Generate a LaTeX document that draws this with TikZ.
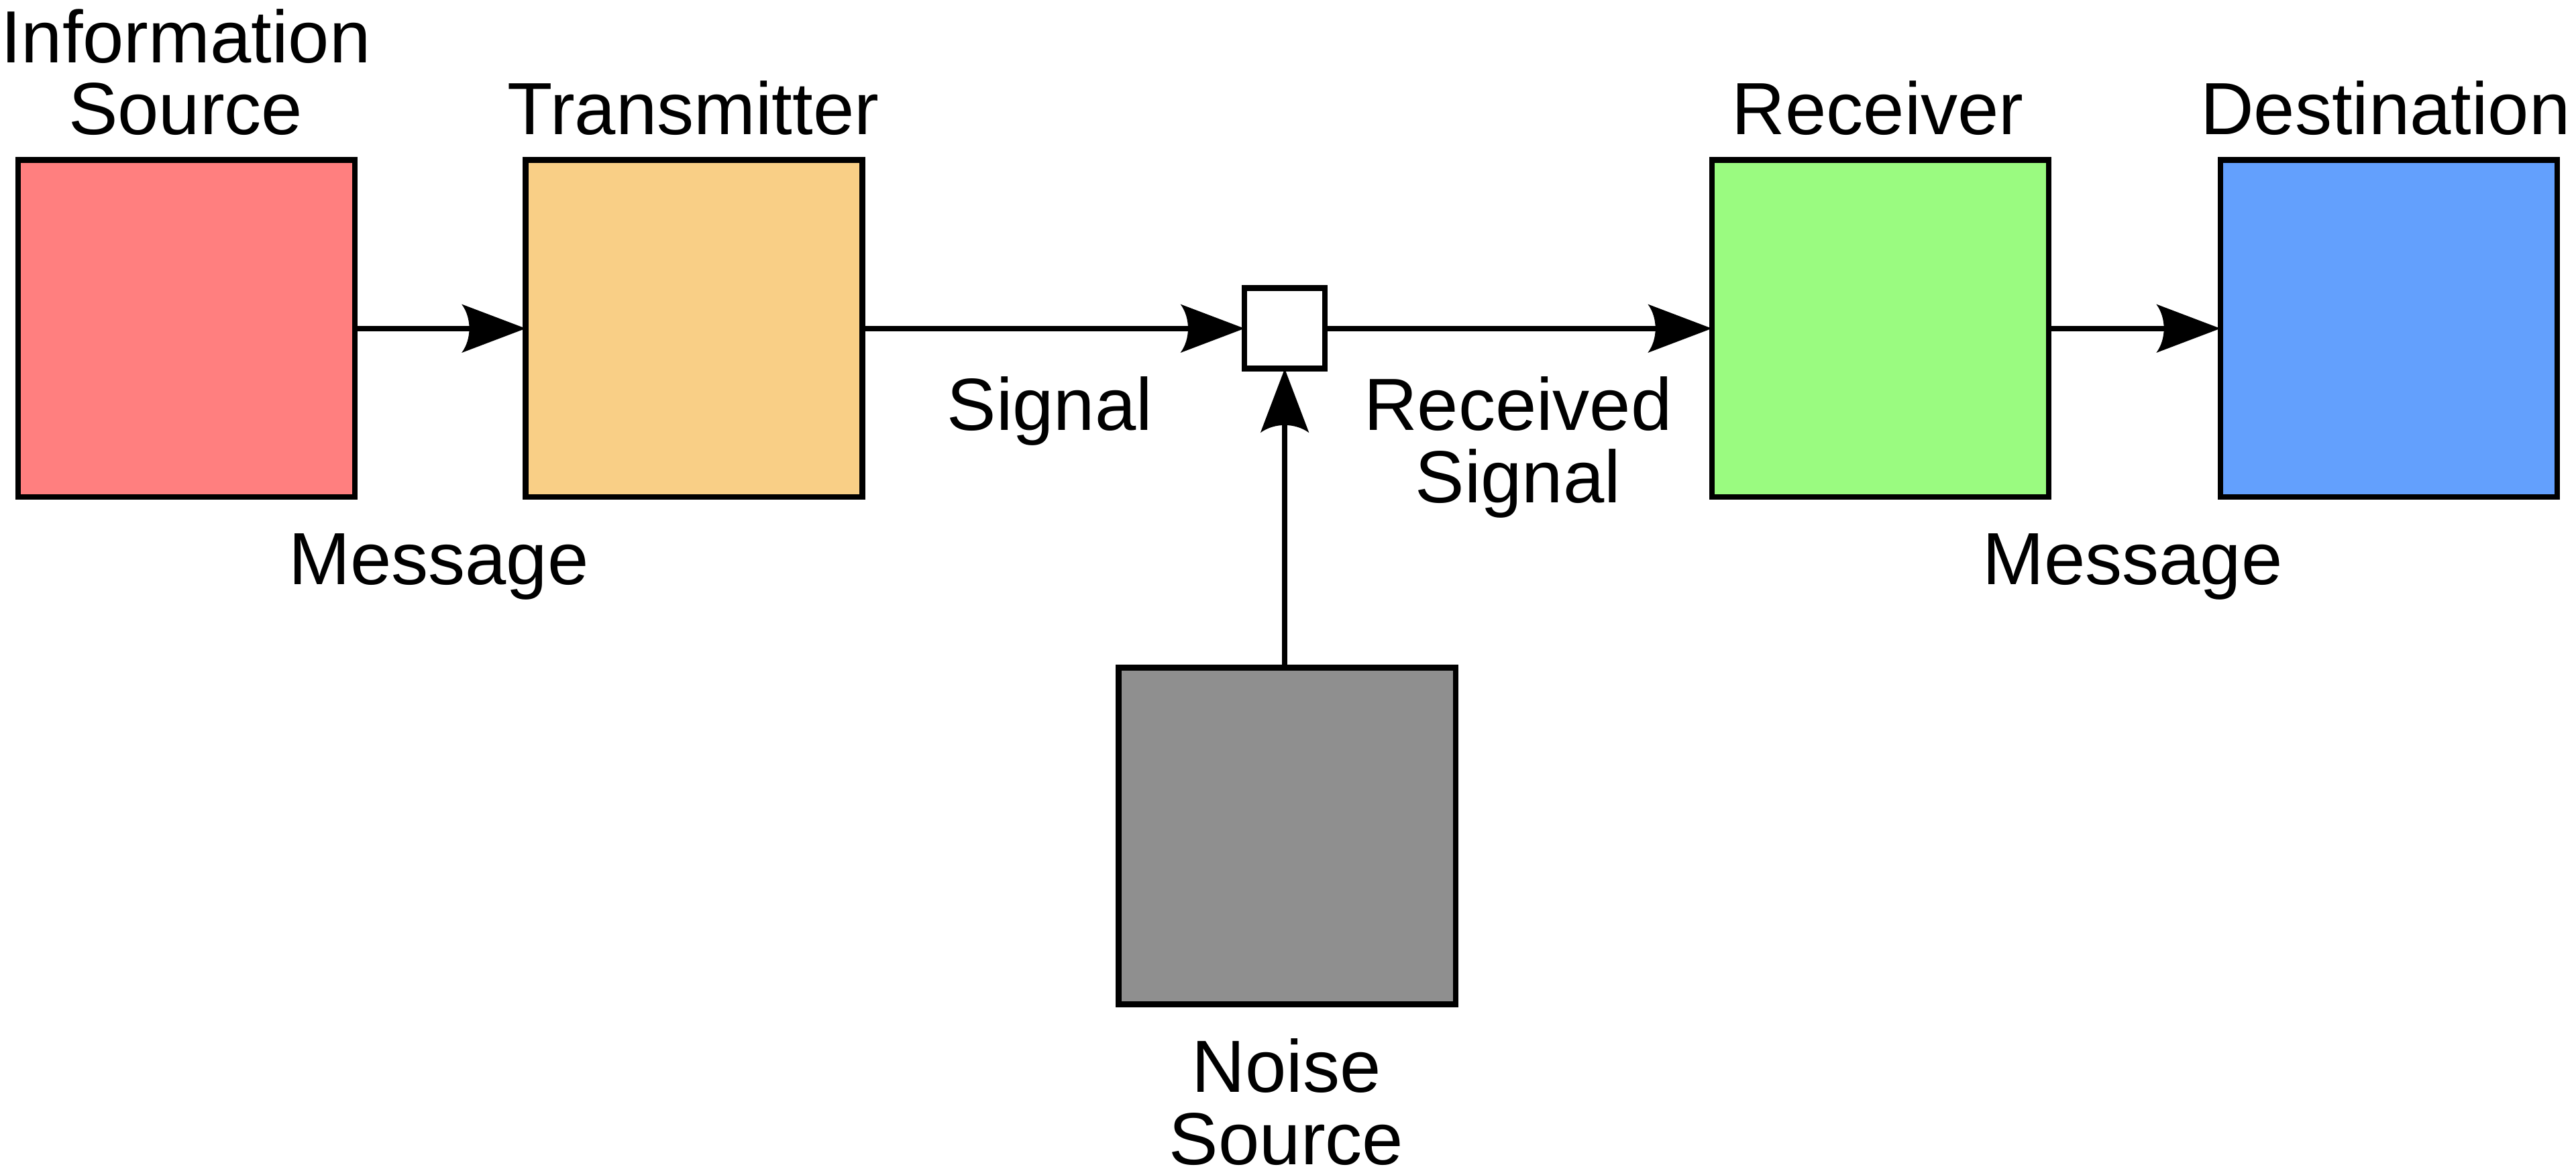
\documentclass[tikz,border=0pt]{standalone}
\usepackage{fontspec}
\setmainfont{Liberation Sans}
\usetikzlibrary{arrows.meta}
\pgfdeclarearrow{
  name = CurvedTip,
  setup code = {
    \pgfarrowssettipend{0pt}
    \pgfarrowssetlineend{-15pt}
    \pgfarrowsupperhullpoint{-19.5pt}{7.4pt}
    \pgfarrowsupperhullpoint{0pt}{0pt}
  },
  drawing code = {
    \pgfpathmoveto{\pgfqpoint{0pt}{0pt}}
    \pgfpathlineto{\pgfqpoint{-19.5pt}{7.4pt}}
    \pgfpathcurveto{\pgfqpoint{-16.4pt}{3.2pt}}{\pgfqpoint{-16.4pt}{-3.2pt}}{\pgfqpoint{-19.5pt}{-7.4pt}}
    \pgfpathclose
    \pgfusepathqfill
  },
  defaults = {}
}
\definecolor{cinfo}{HTML}{FF7F7F}
\definecolor{ctrans}{HTML}{F9CF86}
\definecolor{crecv}{HTML}{9AFB80}
\definecolor{cdest}{HTML}{63A0FD}
\definecolor{cnoise}{HTML}{8F8F8F}
\tikzset{
  blockbox/.style={draw=black, line width=1.75pt, minimum width=102.5pt, minimum height=102.5pt, inner sep=0pt, outer sep=0pt},
  mixbox/.style={draw=black, fill=white, line width=1.75pt, minimum width=24.5pt, minimum height=24.5pt, inner sep=0pt, outer sep=0pt},
  lbl/.style={font=\fontsize{22.5pt}{22pt}\selectfont, align=center, inner sep=0pt, text=black},
  conn/.style={line width=1.6pt, -{CurvedTip}},
}
\begin{document}
\begin{tikzpicture}[x=0.5pt, y=-0.5pt]
\useasboundingbox (0,0) rectangle (1568,715.4);
% blocks
\node[blockbox, fill=cinfo] (info) at (113.5,200) {};
\node[blockbox, fill=ctrans] (trans) at (422.5,200) {};
\node[mixbox] (mix) at (782,200) {};
\node[blockbox, fill=crecv] (recv) at (1144.5,200) {};
\node[blockbox, fill=cdest] (dest) at (1454,200) {};
\node[blockbox, fill=cnoise] (noise) at (783.5,509) {};
% connectors
\draw[conn] (info.east) -- (trans.west);
\draw[conn] (trans.east) -- (mix.west);
\draw[conn] (mix.east) -- (recv.west);
\draw[conn] (recv.east) -- (dest.west);
\draw[conn] (noise.north -| mix.south) -- (mix.south);
% labels
\node[lbl, anchor=base] (tinfo) at (113,82) {Information\\Source};
\node[lbl, anchor=base] (ttrans) at (422,82) {Transmitter};
\node[lbl, anchor=base] (trecv) at (1143,82) {Receiver};
\node[lbl, anchor=base] (tdest) at (1452,82) {Destination};
\node[lbl, anchor=base] (tmsg1) at (267,356) {Message};
\node[lbl, anchor=base] (tsig) at (639,262) {Signal};
\node[lbl, anchor=base] (trsig) at (924,306) {Received\\Signal};
\node[lbl, anchor=base] (tmsg2) at (1298,356) {Message};
\node[lbl, anchor=base, text depth=0pt] (tnoise) at (783,709) {Noise\\Source};
\end{tikzpicture}
\end{document}
